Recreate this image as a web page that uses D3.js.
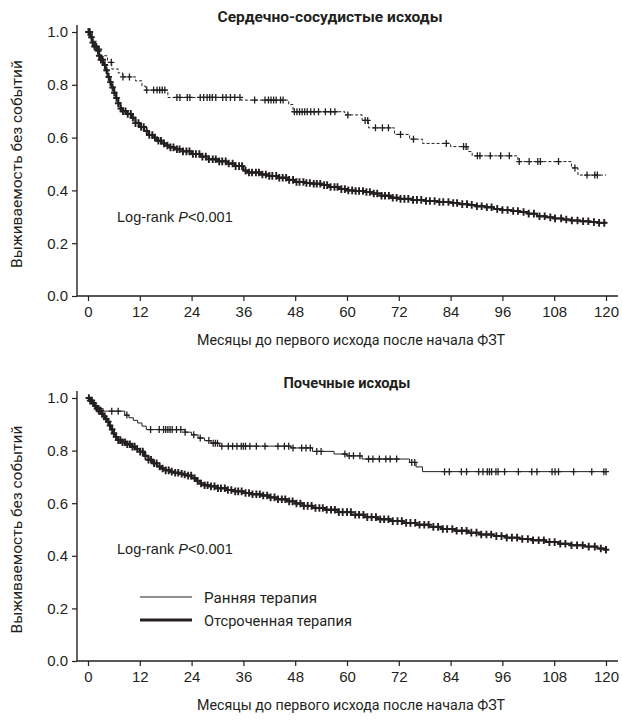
<!DOCTYPE html>
<html>
<head>
<meta charset="utf-8">
<script src="https://cdn.jsdelivr.net/npm/d3@7"></script>
<style>
  body { margin: 0; background: #fff; }
  text { fill: #231f20; }
</style>
</head>
<body>
<div id="chart"></div>
<script>
/*********************************
   DATA
 *********************************/
const monthTicks = [0, 12, 24, 36, 48, 60, 72, 84, 96, 108, 120];
const survTicks = [0, 0.2, 0.4, 0.6, 0.8, 1.0];

// Cardiovascular outcomes: early therapy [month, survival]
const cvEarly = [[0,1],[1,0.965],[2,0.935],[3,0.91],[4.5,0.885],[5.5,0.86],[7,0.845],[8,0.83],[11,0.815],[12.5,0.795],[13.3,0.78],
  [18.5,0.752],[35.5,0.742],[46.5,0.725],[47.5,0.698],[59.5,0.686],[63.5,0.665],[65,0.637],[71,0.612],[74.5,0.594],[77.5,0.578],
  [84,0.566],[88,0.547],[89,0.531],[99.6,0.509],[112,0.485],[113.5,0.458],[120,0.458]];
const cvEarlyCens = [0.3,2.6,5.4,8.1,9.6,13.6,15.2,16.0,16.6,17.2,17.8,20.6,21.3,23.0,23.6,26.0,26.8,27.6,28.2,28.8,29.6,31.2,32.0,33.0,
  34.0,35.2,38.6,41.0,41.8,42.4,43.0,43.6,44.6,45.2,47.8,48.4,49.0,49.6,50.2,50.8,51.6,52.4,53.4,55.0,56.2,57.2,60.2,64.2,64.8,66.6,
  68.2,69.6,72.4,75.4,83.0,87.0,87.6,90.2,90.8,93.2,95.6,97.6,99.9,102.2,104.2,104.8,109.0,112.8,115.6,117.4,118.0];

// Cardiovascular outcomes: delayed therapy
const cvLate = [[0,1],[0.5,0.98],[1,0.96],[1.5,0.945],[2,0.93],[2.5,0.91],[3,0.895],[3.5,0.875],[4,0.855],[4.5,0.83],[5,0.81],[5.5,0.79],
  [6,0.77],[6.5,0.75],[7,0.73],[7.5,0.71],[8,0.70],[9,0.69],[10,0.675],[11,0.655],[12,0.64],[13,0.625],[14,0.61],[15,0.60],[16,0.588],
  [17,0.578],[18,0.57],[19,0.563],[20,0.556],[22,0.548],[24,0.538],[26,0.528],[28,0.518],[30,0.51],[32,0.502],[34,0.492],[36,0.475],
  [37,0.468],[40,0.46],[42,0.455],[44,0.448],[46,0.44],[48,0.432],[50,0.428],[52,0.425],[54,0.42],[56,0.413],[58,0.405],[60,0.40],
  [62,0.398],[64,0.394],[66,0.388],[68,0.38],[70,0.372],[72,0.368],[75,0.364],[78,0.36],[81,0.356],[84,0.352],[86,0.348],[88,0.345],
  [90,0.34],[92,0.336],[94,0.33],[96,0.326],[98,0.322],[100,0.318],[102,0.312],[104,0.302],[106,0.298],[108,0.294],[110,0.29],
  [112,0.286],[114,0.283],[116,0.28],[118,0.277],[120,0.276]];
const cvLateCens = [0.1,0.4,0.8,1.1,1.5,1.9,2.3,2.6,3.0,3.4,3.9,4.3,4.8,5.2,5.7,6.1,6.6,7.0,7.6,8.1,8.7,9.2,9.9,10.4,11.0,11.7,12.3,
  12.9,13.6,14.2,14.9,15.5,16.3,16.9,17.6,18.4,19.1,19.8,20.6,21.2,22.0,22.8,23.5,24.3,25.0,25.8,26.5,27.3,28.0,28.9,29.6,30.4,31.1,
  31.9,32.6,33.5,34.2,35.0,35.7,36.5,37.3,38.0,38.9,39.6,40.4,41.2,42.0,42.7,43.6,44.3,45.1,45.9,46.6,47.5,48.3,49.0,49.9,50.6,51.4,
  52.3,53.0,53.8,54.7,55.4,56.2,57.1,57.8,58.7,59.5,60.3,61.2,62.0,62.8,63.7,64.5,65.3,66.2,67.0,68.0,68.8,69.7,70.6,71.5,72.4,73.3,
  74.2,75.3,76.2,77.2,78.3,79.2,80.3,81.4,82.3,83.5,84.6,85.5,86.7,87.8,88.9,90.1,91.2,92.4,93.5,94.8,96.0,97.2,98.5,99.6,100.9,
  102.1,103.3,104.6,105.8,107.1,108.2,109.6,110.8,112.1,113.4,114.7,115.9,117.2,118.4,119.6];

// Renal outcomes: early therapy
const rnEarly = [[0,1],[0.7,0.985],[1.2,0.97],[2,0.96],[3.5,0.95],[8.5,0.935],[9.5,0.925],[10.5,0.915],[11.5,0.905],[12.5,0.893],
  [13.5,0.88],[22.5,0.87],[24,0.86],[25.5,0.848],[27,0.838],[28.5,0.828],[30.5,0.817],[47,0.81],[52,0.797],[57,0.787],[60,0.78],
  [63.5,0.768],[74.5,0.755],[76,0.738],[77.5,0.72],[120,0.72]];
const rnEarlyCens = [2.5,5.5,7,9,14.5,16.5,17.5,18,18.5,19,19.5,20.5,21.5,22.5,24.5,26,28,29,29.5,30,31,32.5,33.5,34.5,35.5,36,36.5,
  37.5,39,41,44,45.5,46.5,47.5,49.5,50.5,51.5,53,54,59.5,60.5,61.5,63,65,66,67.5,69,70,71.5,75,75.7,82.6,83.7,86.5,87.7,90.5,91.5,
  92.5,93,93.5,94.5,95,96.5,99.7,102.8,104,107.5,108.2,109,112.5,116.7,119.5,120];

// Renal outcomes: delayed therapy
const rnLate = [[0,1],[0.5,0.99],[1,0.98],[1.5,0.97],[2,0.96],[2.5,0.952],[3,0.94],[3.5,0.93],[4,0.92],[4.5,0.91],[5,0.895],[5.5,0.88],
  [6,0.865],[6.5,0.852],[7,0.84],[8,0.832],[9,0.824],[10,0.815],[11,0.806],[12,0.796],[13,0.78],[14,0.765],[15,0.752],[16,0.74],
  [17,0.732],[18,0.725],[19,0.72],[20,0.716],[21,0.712],[22,0.709],[23,0.705],[24,0.695],[25,0.685],[26,0.675],[27,0.668],[28,0.664],
  [30,0.657],[32,0.65],[34,0.645],[36,0.639],[38,0.634],[40,0.629],[42,0.622],[44,0.615],[46,0.607],[48,0.599],[50,0.59],[52,0.582],
  [55,0.575],[58,0.566],[61,0.556],[64,0.547],[67,0.539],[70,0.532],[73,0.525],[76,0.518],[79,0.51],[82,0.502],[85,0.495],[88,0.488],
  [91,0.481],[94,0.475],[97,0.469],[100,0.464],[103,0.459],[106,0.452],[109,0.446],[112,0.44],[115,0.435],[118,0.428],[120,0.423]];
const rnLateCens = [0.2,0.5,0.9,1.3,1.7,2.1,2.5,2.9,3.3,3.8,4.2,4.7,5.1,5.6,6.0,6.5,7.0,7.5,8.0,8.6,9.1,9.7,10.3,10.8,11.4,12.1,12.7,
  13.3,14.0,14.6,15.3,15.9,16.6,17.3,18.0,18.7,19.4,20.2,20.9,21.7,22.4,23.2,23.9,24.7,25.4,26.2,27.0,27.7,28.5,29.3,30.1,30.8,31.7,
  32.4,33.2,34.1,34.8,35.6,36.5,37.3,38.1,39.0,39.8,40.6,41.5,42.3,43.2,44.0,44.9,45.7,46.6,47.4,48.3,49.2,50.0,50.9,51.8,52.7,53.6,
  54.4,55.3,56.3,57.2,58.1,59.0,60.0,60.9,61.9,62.8,63.8,64.7,65.7,66.7,67.7,68.6,69.6,70.6,71.7,72.7,73.7,74.7,75.8,76.8,77.9,78.9,
  80.0,81.1,82.2,83.2,84.4,85.4,86.6,87.7,88.8,90.0,91.1,92.3,93.4,94.6,95.8,97.0,98.2,99.4,100.6,101.9,103.1,104.4,105.6,106.9,
  108.1,109.4,110.6,112.0,113.3,114.6,116.0,117.4,118.8,120.0];

const legendLabels = ["Ранняя терапия", "Отсроченная терапия"];

/*********************************
   DRAWING
 *********************************/
const W = 622, H = 720;
const svg = d3.select("#chart").append("svg").attr("width", W).attr("height", H);
const x = d3.scaleLinear().domain([0, 120]).range([88, 606]);
const stepLine = (y) => d3.line().x(d => x(d[0])).y(d => y(d[1])).curve(d3.curveStepAfter);
const survAt = (steps, t) => steps[Math.max(0, d3.bisector(d => d[0]).right(steps, t) - 1)][1];

function drawPanel(cfg) {
  const y = d3.scaleLinear().domain([0, 1]).range([cfg.y0, cfg.y1]);
  const g = svg.append("g");

  // Title
  g.append("text").attr("x", cfg.titleX).attr("y", cfg.y1 - 10).attr("text-anchor", "middle")
    .attr("textLength", cfg.titleLen).attr("lengthAdjust", "spacingAndGlyphs")
    .style("font", "bold 14.5px Roboto").text(cfg.title);

  // Axis lines
  g.append("line").attr("x1", 77).attr("x2", 77).attr("y1", cfg.y1 - 7).attr("y2", cfg.y0).attr("stroke", "#231f20").attr("stroke-width", 1.4);
  g.append("line").attr("x1", 77).attr("x2", 618).attr("y1", cfg.y0).attr("y2", cfg.y0).attr("stroke", "#231f20").attr("stroke-width", 1.4);

  // X axis
  const xa = g.append("g").attr("transform", `translate(0,${cfg.y0})`)
    .call(d3.axisBottom(x).tickValues(monthTicks).tickSize(5).tickPadding(5));
  xa.select(".domain").remove();
  xa.selectAll("line").attr("stroke", "#231f20").attr("stroke-width", 1.2);
  xa.selectAll("text").style("font", "15px 'Liberation Sans'").style("fill", "#231f20");

  // Y axis
  const ya = g.append("g").attr("transform", "translate(77,0)")
    .call(d3.axisLeft(y).tickValues(survTicks).tickFormat(d3.format(".1f")).tickSize(5).tickPadding(4));
  ya.select(".domain").remove();
  ya.selectAll("line").attr("stroke", "#231f20").attr("stroke-width", 1.2);
  ya.selectAll("text").style("font", "15px 'Liberation Sans'").style("fill", "#231f20");

  // Axis titles
  g.append("text").attr("x", 351).attr("y", cfg.y0 + 49).attr("text-anchor", "middle")
    .attr("textLength", 308).attr("lengthAdjust", "spacingAndGlyphs")
    .style("font", "15.5px Roboto").text("Месяцы до первого исхода после начала ФЗТ");
  g.append("text").attr("transform", `translate(22,${(cfg.y0 + cfg.y1) / 2}) rotate(-90)`).attr("text-anchor", "middle")
    .attr("textLength", 208).attr("lengthAdjust", "spacingAndGlyphs")
    .style("font", "15.5px Roboto").text("Выживаемость без событий");

  // Log-rank annotation
  const lr = g.append("text").attr("x", 117).attr("y", y(cfg.lrAt)).style("font", "14.5px 'Liberation Sans'");
  lr.append("tspan").text("Log-rank ");
  lr.append("tspan").style("font-style", "italic").text("P");
  lr.append("tspan").text("<0.001");

  // Curves with censor marks
  cfg.series.forEach(s => {
    g.append("path").datum(s.steps).attr("d", stepLine(y)).attr("fill", "none")
      .attr("stroke", "#231f20").attr("stroke-width", s.width).attr("stroke-dasharray", s.dash || null);
    const h = s.markSize;
    g.selectAll(null).data(s.cens).enter().append("path")
      .attr("d", `M${-h},0H${h}M0,${-h - 0.5}V${h + 0.5}`)
      .attr("transform", d => `translate(${x(d)},${y(survAt(s.steps, d))})`)
      .attr("stroke", "#231f20").attr("stroke-width", s.markWidth).attr("fill", "none");
  });

  return y;
}

drawPanel({
  title: "Сердечно-сосудистые исходы", titleX: 330, titleLen: 225, y0: 296, y1: 32, lrAt: 0.28,
  series: [
    { steps: cvEarly, cens: cvEarlyCens, width: 1, dash: "3,2", markWidth: 1.3, markSize: 3 },
    { steps: cvLate, cens: cvLateCens, width: 2, markWidth: 1.9, markSize: 3.3 }
  ]
});

drawPanel({
  title: "Почечные исходы", titleX: 347, titleLen: 127, y0: 661, y1: 398, lrAt: 0.405,
  series: [
    { steps: rnEarly, cens: rnEarlyCens, width: 1, markWidth: 1.3, markSize: 3 },
    { steps: rnLate, cens: rnLateCens, width: 2, markWidth: 1.9, markSize: 3.3 }
  ]
});

// Legend (bottom panel)
const legend = svg.append("g");
legend.selectAll("line").data(legendLabels).enter().append("line")
  .attr("x1", 140).attr("x2", 192).attr("y1", (d, i) => 597 + i * 23).attr("y2", (d, i) => 597 + i * 23)
  .attr("stroke", "#231f20").attr("stroke-width", (d, i) => i ? 3 : 1);
legend.selectAll("text").data(legendLabels).enter().append("text")
  .attr("x", 204).attr("y", (d, i) => 603 + i * 23)
  .attr("textLength", (d, i) => i ? 148 : 113).attr("lengthAdjust", "spacingAndGlyphs")
  .style("font", "15.5px Roboto").text(d => d);
</script>
</body>
</html>
